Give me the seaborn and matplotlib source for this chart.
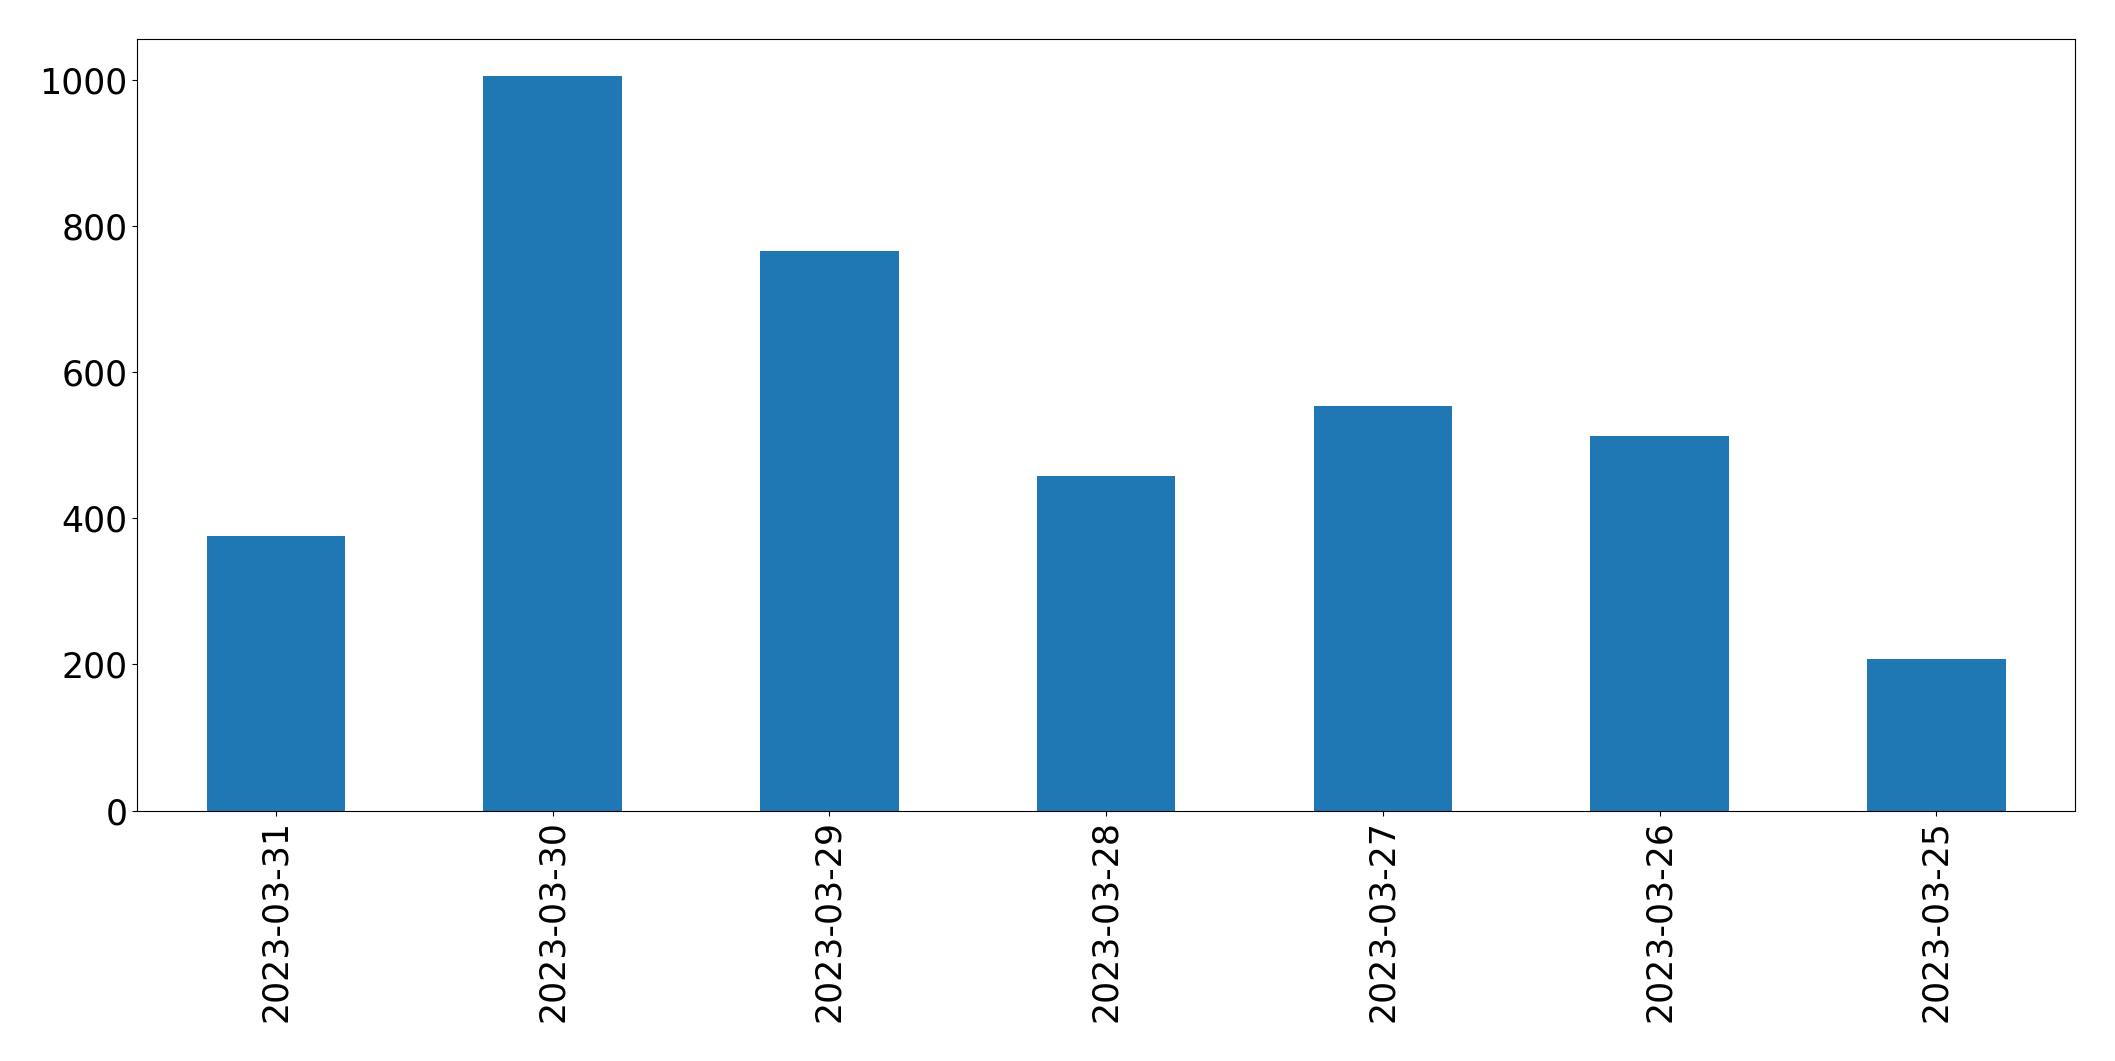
import pandas as pd
import matplotlib
matplotlib.use("Agg")
import matplotlib.pyplot as plt
import seaborn as sns

# data
dates = ['2023-03-31', '2023-03-30', '2023-03-29', '2023-03-28',
         '2023-03-27', '2023-03-26', '2023-03-25']
counts = [375, 1005, 765, 458, 554, 513, 208]

df = pd.DataFrame({'date': dates, 'count': counts})

# plain matplotlib look (black text, black spines)
plt.rcParams['font.family'] = ['DejaVu Sans']

fig, ax = plt.subplots(figsize=(21.15, 10.61), dpi=100)
fig.subplots_adjust(left=0.065, right=0.981, top=0.963, bottom=0.236)

sns.barplot(data=df, x='date', y='count', order=dates, color='#1f77b4',
            saturation=1, width=0.5, linewidth=0, ax=ax)

ax.set_xlim(-0.5, len(dates) - 0.5)
ax.set_ylim(0, max(counts) * 1.05)
ax.set_xlabel('')
ax.set_ylabel('')
for s in ax.spines.values():
    s.set_color('black')
ax.tick_params(axis='x', labelrotation=90, labelsize=25)
ax.tick_params(axis='y', labelsize=25)

plt.savefig('out.png', dpi=100)
plt.close()
